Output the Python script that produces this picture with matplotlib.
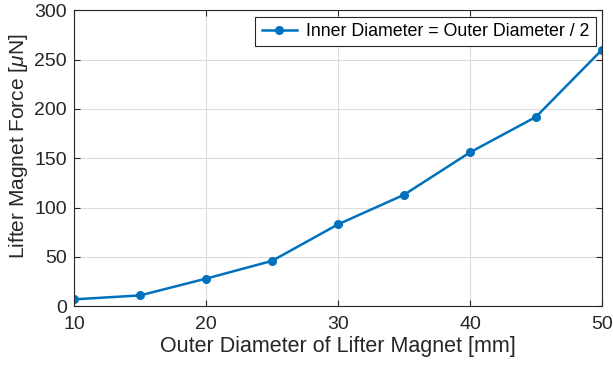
import matplotlib
matplotlib.use("Agg")
import matplotlib.pyplot as plt

diameters = [10, 15, 20, 25, 30, 35, 40, 45, 50]
forces = [7, 11, 28, 46, 83, 113, 156, 192, 260]
xticks = [10, 20, 30, 40, 50]
yticks = [0, 50, 100, 150, 200, 250, 300]

plt.rcParams['font.family'] = ['Liberation Sans', 'DejaVu Sans']
plt.rcParams['mathtext.fontset'] = 'custom'
plt.rcParams['mathtext.it'] = 'Liberation Sans:italic'
plt.rcParams['mathtext.rm'] = 'Liberation Sans'

fig = plt.figure(figsize=(6.13, 3.69), dpi=100)
ax = fig.add_axes([0.1207, 0.170, 0.8613, 0.802])
ax.plot(diameters, forces, color='#0072BD', lw=1.8, marker='o', ms=5.5,
        label='Inner Diameter = Outer Diameter / 2')
ax.set_xlim(10, 50)
ax.set_ylim(0, 300)
ax.set_xticks(xticks)
ax.set_yticks(yticks)
ax.grid(True, color='#dcdcdc', lw=0.8)
ax.set_axisbelow(True)
for s in ax.spines.values():
    s.set_color('#262626')
    s.set_linewidth(0.8)
ax.tick_params(direction='in', top=True, right=True, labelsize=14, colors='#262626',
               length=4, width=0.8)
ax.tick_params(axis='x', pad=7)
ax.tick_params(axis='y', pad=5)
ax.set_xlabel('Outer Diameter of Lifter Magnet [mm]', fontsize=15.5, color='#262626', labelpad=2)
ax.set_ylabel(r'Lifter Magnet Force [$\mu$N]', fontsize=15, color='#262626')
ax.yaxis.set_label_coords(-0.083, 0.54)
leg = ax.legend(loc='upper right', fontsize=12.8, fancybox=False, framealpha=1,
                edgecolor='#262626', borderaxespad=0.35, handlelength=2.0,
                borderpad=0.35, handletextpad=0.5)
leg.get_frame().set_linewidth(0.8)
fig.savefig('out.png', dpi=100)
